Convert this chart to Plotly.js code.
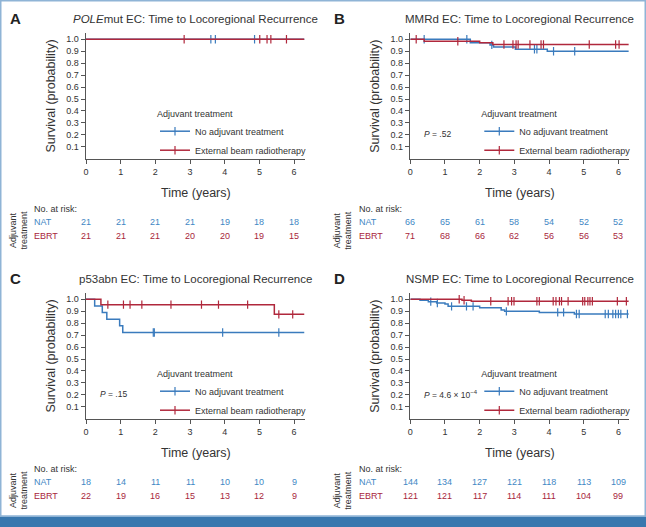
<!DOCTYPE html>
<html><head><meta charset="utf-8">
<script src="https://cdn.plot.ly/plotly-3.0.1.min.js"></script>
<style>html,body{margin:0;padding:0;background:#fff}#chart{width:646px;height:527px}</style>
</head><body><div id="chart"></div>
<script>
// ---------- DATA ----------
const years = [0, 1, 2, 3, 4, 5, 6];
const yTicks = [0.1, 0.2, 0.3, 0.4, 0.5, 0.6, 0.7, 0.8, 0.9, 1.0];
const maxFollowUp = 6.3;
const panelLetters = ['A', 'B', 'C', 'D'];
const panelTitles = [
  '<i>POLE</i>mut EC: Time to Locoregional Recurrence',
  'MMRd EC: Time to Locoregional Recurrence',
  'p53abn EC: Time to Locoregional Recurrence',
  'NSMP EC: Time to Locoregional Recurrence'
];
const pValues = [null, '<i>P</i> = .52', '<i>P</i> = .15', '<i>P</i> = 4.6 × 10<sup>−4</sup>'];
const groupNames = ['No adjuvant treatment', 'External beam radiotherapy'];
const groupShort = ['NAT', 'EBRT'];

// Panel A: POLEmut
const A_natEventT = [];
const A_natEventS = [];
const A_natCensor = [3.60, 3.73, 4.86];
const A_ebrtEventT = [];
const A_ebrtEventS = [];
const A_ebrtCensor = [2.83, 5.01, 5.22, 5.33, 5.78];
const A_natRisk = [21, 21, 21, 21, 19, 18, 18];
const A_ebrtRisk = [21, 21, 21, 20, 20, 19, 15];

// Panel B: MMRd
const B_natEventT = [1.73, 2.30, 2.40, 3.03, 3.95];
const B_natEventS = [0.970, 0.953, 0.935, 0.917, 0.900];
const B_natCensor = [0.40, 1.63, 2.35, 3.58, 3.65, 4.13, 4.74];
const B_ebrtEventT = [0.40, 2.00, 2.38];
const B_ebrtEventS = [0.983, 0.970, 0.956];
const B_ebrtCensor = [0.17, 1.37, 2.70, 2.96, 3.05, 3.11, 3.45, 3.77, 3.84, 5.16, 5.92, 6.02];
const B_natRisk = [66, 65, 61, 58, 54, 52, 52];
const B_ebrtRisk = [71, 68, 66, 62, 56, 56, 53];

// Panel C: p53abn
const C_natEventT = [0.25, 0.47, 0.60, 0.97, 1.06];
const C_natEventS = [0.944, 0.889, 0.833, 0.778, 0.722];
const C_natCensor = [1.94, 1.97, 3.94, 5.56];
const C_ebrtEventT = [0.43, 5.43];
const C_ebrtEventS = [0.955, 0.874];
const C_ebrtCensor = [0.63, 1.08, 1.27, 1.61, 2.45, 3.33, 3.82, 4.66, 5.56, 5.96];
const C_natRisk = [18, 14, 11, 11, 10, 10, 9];
const C_ebrtRisk = [22, 19, 16, 15, 13, 12, 9];

// Panel D: NSMP
const D_natEventT = [0.28, 0.52, 0.76, 1.00, 1.09, 2.00, 2.62, 2.72, 3.72, 4.73];
const D_natEventS = [0.992, 0.980, 0.969, 0.961, 0.941, 0.930, 0.911, 0.899, 0.890, 0.877];
const D_natCensor = [0.59, 0.78, 1.19, 1.62, 1.81, 2.77, 4.25, 4.42, 4.79, 4.87, 5.62, 5.71, 5.84, 5.92, 6.00, 6.07, 6.26];
const D_ebrtEventT = [1.49, 1.76];
const D_ebrtEventS = [0.992, 0.983];
const D_ebrtCensor = [1.41, 1.55, 2.32, 2.82, 2.92, 2.99, 3.65, 3.72, 4.12, 4.20, 4.30, 4.36, 4.55, 4.97, 5.03, 5.12, 5.18, 5.25, 5.97, 6.23];
const D_natRisk = [144, 134, 127, 121, 118, 113, 109];
const D_ebrtRisk = [121, 121, 117, 114, 111, 104, 99];

// ---------- STYLE / LAYOUT ----------
const W = 646, H = 527;
const colLine = ['#3a7bbd', '#b0283c'];
const colText = ['#3f87c4', '#a8263b'];
const FONT = 'Liberation Sans, Arial, Helvetica, sans-serif';
const px = x => x / W;
const py = y => 1 - y / H;

const panels = [
  {ev: [[A_natEventT, A_natEventS], [A_ebrtEventT, A_ebrtEventS]], cen: [A_natCensor, A_ebrtCensor], risk: [A_natRisk, A_ebrtRisk]},
  {ev: [[B_natEventT, B_natEventS], [B_ebrtEventT, B_ebrtEventS]], cen: [B_natCensor, B_ebrtCensor], risk: [B_natRisk, B_ebrtRisk]},
  {ev: [[C_natEventT, C_natEventS], [C_ebrtEventT, C_ebrtEventS]], cen: [C_natCensor, C_ebrtCensor], risk: [C_natRisk, C_ebrtRisk]},
  {ev: [[D_natEventT, D_natEventS], [D_ebrtEventT, D_ebrtEventS]], cen: [D_natCensor, D_ebrtCensor], risk: [D_natRisk, D_ebrtRisk]}
];
const offX = [0, 324.3, 0, 324.3];
const offY = [0, 0, 260, 260];
// base geometry (panel A, pixels)
const G = {x0: 86, x1: 304.5, yTop: 33.3, yBot: 158.8};

function survAt(T, S, t) {
  let s = 1;
  for (let i = 0; i < T.length; i++) if (T[i] <= t) s = S[i];
  return s;
}

const traces = [];
const layout = {
  width: W, height: H,
  margin: {l: 0, r: 0, t: 0, b: 0},
  paper_bgcolor: '#ffffff', plot_bgcolor: 'rgba(0,0,0,0)',
  font: {family: FONT, size: 9, color: '#333'},
  showlegend: true,
  annotations: [],
  shapes: [
    {type: 'rect', xref: 'paper', yref: 'paper', x0: px(0.75), x1: px(645.25), y0: py(516), y1: py(0.75),
     line: {color: '#8fb4d6', width: 1.5}, fillcolor: 'rgba(0,0,0,0)', layer: 'below'},
    {type: 'rect', xref: 'paper', yref: 'paper', x0: 0, x1: 1, y0: 0, y1: py(516.8),
     line: {width: 0}, fillcolor: '#3877ae', layer: 'above'}
  ]
};

function ann(text, x, y, o) {
  layout.annotations.push(Object.assign({
    text: text, x: px(x), y: py(y), xref: 'paper', yref: 'paper',
    showarrow: false, xanchor: 'center', yanchor: 'middle',
    font: {family: FONT, size: 9, color: '#333'}
  }, o || {}));
}

panels.forEach((p, k) => {
  const n = k === 0 ? '' : String(k + 1);
  const xa = 'x' + n, ya = 'y' + n;
  const dx = offX[k], dy = offY[k];
  const legName = 'legend' + n;

  layout['xaxis' + n] = {
    domain: [px(G.x0 + dx), px(G.x1 + dx)], anchor: ya, range: [0, maxFollowUp],
    tickvals: years, ticks: 'outside', ticklen: 4, tickwidth: 1, tickcolor: '#555',
    showline: true, linecolor: '#555', linewidth: 1.5, showgrid: false, zeroline: false,
    tickfont: {family: FONT, size: 9, color: '#333'}, fixedrange: true
  };
  layout['yaxis' + n] = {
    domain: [py(G.yBot + dy), py(G.yTop + dy)], anchor: xa, range: [0, 1.05],
    tickvals: yTicks, tickformat: '.1f', ticks: 'outside', ticklen: 4, tickwidth: 1, tickcolor: '#555',
    showline: true, linecolor: '#555', linewidth: 1.5, showgrid: false, zeroline: false,
    tickfont: {family: FONT, size: 9, color: '#333'}, fixedrange: true
  };

  for (let g = 0; g < 2; g++) {
    const T = p.ev[g][0], S = p.ev[g][1];
    traces.push({
      type: 'scatter', mode: 'lines', xaxis: xa, yaxis: ya, showlegend: false, hoverinfo: 'skip',
      x: [0].concat(T, [maxFollowUp]), y: [1].concat(S, [S.length ? S[S.length - 1] : 1]),
      line: {shape: 'hv', color: colLine[g], width: 1.5}
    });
    traces.push({
      type: 'scatter', mode: 'markers', xaxis: xa, yaxis: ya, showlegend: false, hoverinfo: 'skip',
      x: p.cen[g], y: p.cen[g].map(t => survAt(T, S, t)),
      marker: {symbol: 'line-ns-open', size: 6, color: colLine[g], line: {color: colLine[g], width: 1.2}}
    });
  }
  for (let g = 0; g < 2; g++) {
    traces.push({
      type: 'scatter', mode: 'lines+markers', xaxis: xa, yaxis: ya, legend: legName,
      name: groupNames[g], x: [null], y: [null], hoverinfo: 'skip',
      line: {color: colLine[g], width: 1.5},
      marker: {symbol: 'line-ns-open', size: 6, color: colLine[g], line: {color: colLine[g], width: 1.2}}
    });
  }
  layout[legName] = {
    x: px(155 + dx), y: py(105 + dy), xanchor: 'left', yanchor: 'top',
    bgcolor: 'rgba(0,0,0,0)', borderwidth: 0,
    title: {text: 'Adjuvant treatment', font: {family: FONT, size: 9, color: '#333'}},
    font: {family: FONT, size: 9, color: '#333'}, itemwidth: 30
  };

  // labels
  ann('<b>' + panelLetters[k] + '</b>', 15 + dx, 18.5 + dy, {font: {family: FONT, size: 15, color: '#222'}});
  ann(panelTitles[k], 195.5 + dx, 19 + dy, {font: {family: FONT, size: 11.5, color: '#333'}});
  ann('Survival (probability)', 50.5 + dx, 96 + dy, {textangle: -90, font: {family: FONT, size: 12.5, color: '#333'}});
  ann('Time (years)', 195.5 + dx, 193 + dy, {font: {family: FONT, size: 12.5, color: '#333'}});
  if (pValues[k]) ann(pValues[k], 97.5 + dx, 134 + dy, {xanchor: 'left', font: {family: FONT, size: 8.5, color: '#333'}});

  // risk table
  ann('No. at risk:', 32.3 + dx, 209 + dy, {xanchor: 'left'});
  ann('Adjuvant<br>treatment', 18.5 + dx, 230 + dy, {textangle: -90, font: {family: FONT, size: 9, color: '#333'}});
  for (let g = 0; g < 2; g++) {
    const yy = (g === 0 ? 222.3 : 236) + dy;
    ann(groupShort[g], 32.3 + dx, yy, {xanchor: 'left', font: {family: FONT, size: 9, color: colText[g]}});
    p.risk[g].forEach((v, i) => {
      layout.annotations.push({
        text: String(v), x: years[i], xref: xa, y: py(yy), yref: 'paper',
        showarrow: false, xanchor: 'center', yanchor: 'middle',
        font: {family: FONT, size: 9, color: colText[g]}
      });
    });
  }
});

Plotly.newPlot('chart', traces, layout, {displayModeBar: false, staticPlot: true});
</script>
</body></html>
